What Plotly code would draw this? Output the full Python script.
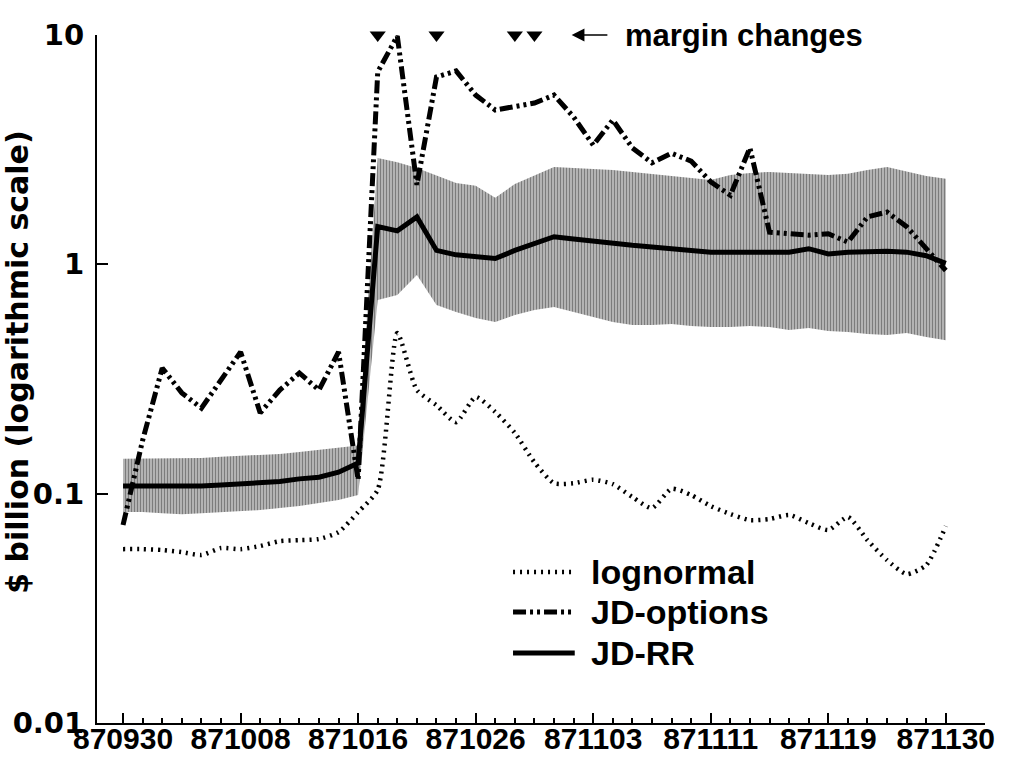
import plotly.graph_objects as go

# ---------------- data ----------------
dates = ['870930', '871001', '871002', '871005', '871006', '871007', '871008', '871009',
         '871012', '871013', '871014', '871015', '871016', '871019', '871020', '871021',
         '871022', '871023', '871026', '871027', '871028', '871029', '871030', '871102',
         '871103', '871104', '871105', '871106', '871109', '871110', '871111', '871112',
         '871113', '871116', '871117', '871118', '871119', '871120', '871123', '871124',
         '871125', '871127', '871130']

label_dates = ['870930', '871008', '871016', '871026', '871103', '871111', '871119', '871130']
margin_change_dates = ['871019', '871022', '871028', '871029']

lognormal = [0.0573, 0.0573, 0.0568, 0.0556, 0.0540, 0.0579, 0.0573, 0.0591, 0.0621, 0.0627,
             0.0634, 0.0680, 0.0831, 0.104, 0.502, 0.283, 0.243, 0.205, 0.264, 0.227,
             0.184, 0.137, 0.111, 0.111, 0.115, 0.110, 0.0966, 0.0865, 0.105, 0.0986,
             0.0883, 0.0815, 0.0767, 0.0775, 0.0807, 0.0744, 0.0694, 0.0791, 0.0627, 0.0513,
             0.0446, 0.0488, 0.0722]

jd_options = [0.073, 0.171, 0.353, 0.275, 0.236, 0.313, 0.415, 0.225, 0.283, 0.336,
              0.283, 0.415, 0.115, 6.90, 9.9, 2.22, 6.56, 6.97, 5.47, 4.71,
              4.90, 5.05, 5.47, 4.39, 3.31, 4.26, 3.22, 2.77, 3.05, 2.82,
              2.29, 2.00, 3.22, 1.38, 1.36, 1.34, 1.36, 1.25, 1.61, 1.69,
              1.46, 1.18, 0.94]

jd_rr = [0.108, 0.108, 0.108, 0.107, 0.108, 0.109, 0.110, 0.112, 0.113, 0.116,
         0.118, 0.124, 0.136, 1.46, 1.40, 1.61, 1.15, 1.10, 1.08, 1.06,
         1.15, 1.24, 1.32, 1.29, 1.26, 1.24, 1.21, 1.19, 1.17, 1.14,
         1.13, 1.13, 1.13, 1.13, 1.13, 1.17, 1.11, 1.13, 1.14, 1.14,
         1.13, 1.09, 1.01]

jd_rr_upper = [0.142, 0.142, 0.142, 0.143, 0.143, 0.145, 0.146, 0.148, 0.149, 0.152,
               0.155, 0.158, 0.162, 2.91, 2.79, 2.63, 2.43, 2.26, 2.20, 1.95,
               2.24, 2.45, 2.66, 2.63, 2.60, 2.58, 2.53, 2.48, 2.43, 2.38,
               2.33, 2.45, 2.50, 2.53, 2.50, 2.48, 2.45, 2.48, 2.58, 2.66,
               2.55, 2.43, 2.36]

jd_rr_lower = [0.0831, 0.0831, 0.0822, 0.0814, 0.0822, 0.0831, 0.0839, 0.0848, 0.0866, 0.0884,
               0.0910, 0.0938, 0.0986, 0.699, 0.735, 0.898, 0.665, 0.619, 0.583, 0.560,
               0.601, 0.632, 0.651, 0.619, 0.589, 0.560, 0.544, 0.544, 0.549, 0.538,
               0.533, 0.533, 0.538, 0.533, 0.517, 0.528, 0.512, 0.507, 0.497, 0.492,
               0.502, 0.482, 0.467]

y_tick_vals = [0.01, 0.1, 1, 10]
y_tick_text = ['0.01', '0.1', '1', '10']

# ---------------- figure ----------------
BLACK = '#000000'
x = list(range(len(dates)))
y_log_range = [-2, 1]
x_range = [-1.33, 44.0]

dash_lognormal = '2px,5px'
dash_options = '13px,4px,3px,4px,3px,4px'

fig = go.Figure()

fig.add_trace(go.Scatter(x=x, y=jd_rr_lower, mode='lines', line=dict(width=0, color='#999999'),
                         showlegend=False, hoverinfo='skip'))
fig.add_trace(go.Scatter(x=x, y=jd_rr_upper, mode='lines', line=dict(width=0, color='#999999'),
                         fill='tonexty', fillcolor='#b0b0b0',
                         fillpattern=dict(shape='|', fgcolor='#3c3c3c', bgcolor='#bdbdbd',
                                          size=3, solidity=0.45),
                         showlegend=False, hoverinfo='skip'))

fig.add_trace(go.Scatter(x=x, y=lognormal, mode='lines', name='lognormal',
                         line=dict(color=BLACK, width=4.5, dash=dash_lognormal,
                                   shape='spline', smoothing=0.6),
                         showlegend=False))
fig.add_trace(go.Scatter(x=x, y=jd_options, mode='lines', name='JD-options',
                         line=dict(color=BLACK, width=5, dash=dash_options),
                         showlegend=False))
fig.add_trace(go.Scatter(x=x, y=jd_rr, mode='lines', name='JD-RR',
                         line=dict(color=BLACK, width=5),
                         showlegend=False))

# margin change markers along the top edge
fig.add_trace(go.Scatter(x=[dates.index(d) for d in margin_change_dates],
                         y=[10 ** y_log_range[1]] * len(margin_change_dates),
                         mode='markers', cliponaxis=False, showlegend=False,
                         marker=dict(symbol='triangle-down', size=14, color=BLACK)))

label_font = dict(family='Liberation Sans, Arial, sans-serif', size=30, color=BLACK, weight='bold')

annotations = [
    # arrow pointing to markers
    dict(x=22.9, y=y_log_range[1], ax=24.8, ay=y_log_range[1], xref='x', yref='y',
         axref='x', ayref='y', text='', showarrow=True, arrowhead=2, arrowsize=1.6,
         arrowwidth=1.6, arrowcolor=BLACK),
    dict(x=25.5, y=y_log_range[1], xref='x', yref='y', text='margin changes', showarrow=False,
         xanchor='left', yanchor='middle',
         font=dict(family='Liberation Sans, Arial, sans-serif', size=31, color=BLACK, weight='bold')),
    # y-axis title
    dict(x=-0.089, y=0.525, xref='paper', yref='paper', text='$ billion (logarithmic scale)',
         showarrow=False, textangle=-90, xanchor='center', yanchor='middle',
         font=dict(family='DejaVu Sans, sans-serif', size=30, color=BLACK, weight='bold')),
]

# manual legend
legend_items = [('lognormal', dash_lognormal, 4.5), ('JD-options', dash_options, 5), ('JD-RR', 'solid', 5)]
legend_y = [0.2195, 0.1613, 0.1017]
shapes = []
for (name, dash, w), ly in zip(legend_items, legend_y):
    shapes.append(dict(type='line', xref='paper', yref='paper', x0=0.4685, x1=0.538, y0=ly, y1=ly,
                       line=dict(color=BLACK, width=w, dash=dash)))
    annotations.append(dict(x=0.5545, y=ly, xref='paper', yref='paper', text=name, showarrow=False,
                            xanchor='left', yanchor='middle',
                            font=dict(family='Liberation Sans, Arial, sans-serif', size=34,
                                      color=BLACK, weight='bold')))

fig.update_layout(
    width=1030, height=759,
    margin=dict(l=97, r=45, t=35, b=36),
    paper_bgcolor='white', plot_bgcolor='white',
    showlegend=False,
    annotations=annotations,
    shapes=shapes,
    xaxis=dict(range=x_range, showgrid=False, zeroline=False, showline=True, linecolor=BLACK,
               linewidth=2, ticks='inside', ticklen=10, tickwidth=1.5, tickcolor=BLACK,
               tickmode='array', tickvals=[dates.index(d) for d in label_dates],
               ticktext=label_dates, tickfont=label_font, automargin=False,
               ticklabelstandoff=-12,
               minor=dict(ticks='inside', ticklen=5, tickwidth=1.5, tickcolor=BLACK,
                          tickmode='array', tickvals=x, showgrid=False)),
    yaxis=dict(type='log', range=y_log_range, showgrid=False, zeroline=False, showline=True,
               linecolor=BLACK, linewidth=2, ticks='inside', ticklen=11, tickwidth=2,
               tickcolor=BLACK, tickmode='array', tickvals=y_tick_vals, ticktext=y_tick_text,
               tickfont=dict(family='DejaVu Sans, sans-serif', size=29, color=BLACK, weight='bold'),
               ticklabelstandoff=5, automargin=False),
)

fig.write_html('out.html')
